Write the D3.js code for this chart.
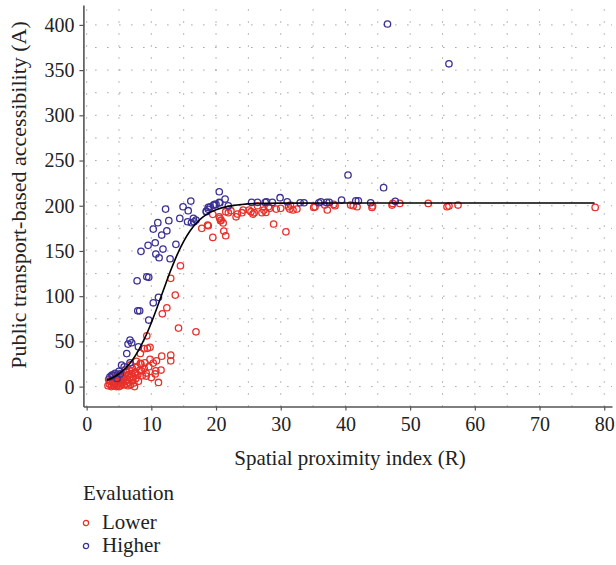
<!DOCTYPE html>
<head>
    <meta charset="utf-8">
    <script src="https://d3js.org/d3.v7.min.js"></script>
    <style>
        body { margin: 0; background: #fff; }
        text { font-family: "Liberation Serif", "DejaVu Serif", serif; fill: #222; }
    </style>
</head>
<body>
    <div id="chart"></div>

    <script>
    // values
    var xTicks = [0, 10, 20, 30, 40, 50, 60, 70, 80];
    var yTicks = [0, 50, 100, 150, 200, 250, 300, 350, 400];

    var fitX = [3.1, 4, 5, 6, 7, 8, 9, 10, 11, 12, 13, 14, 15, 16, 17, 18, 19, 20, 22, 24, 26, 30, 40, 50, 60, 70, 78.5];
    var fitY = [7, 9.8, 14.2, 20.3, 28.7, 39.8, 53.8, 70.7, 89.6, 109.4, 128.6, 146, 160.6, 172.3, 181.2, 187.7, 192.4, 195.7, 199.6, 201.4, 202.3, 202.9, 203, 203, 203, 203, 203];

    var higherPoints = [
        [46.5, 401], [56.0, 357], [40.4, 234], [45.9, 220], [47.7, 205],
        [20.5, 215.5], [21.4, 207.4], [20.6, 203.3], [19.8, 201.5], [19.6, 200.8],
        [18.8, 198.2], [18.5, 194], [21.9, 200], [25.5, 203.7], [26.4, 203.7],
        [27.6, 203.7], [27.8, 204.4], [28.7, 203.7], [29.9, 208.9], [31.0, 204.4],
        [33.0, 203.3], [33.6, 203.3], [35.9, 203.3], [36.2, 204.4], [37.1, 203.7],
        [37.5, 203.7], [39.4, 206.3], [41.6, 205.5], [42.0, 205.5], [43.9, 203.3],
        [16.1, 205.2], [14.9, 198.9], [15.7, 194.5], [12.2, 196.3], [14.4, 186],
        [15.6, 182.3], [16.2, 181.2], [16.6, 182.3], [16.5, 186], [16.9, 184.2],
        [18.5, 193.4], [18.8, 196], [19.1, 198.9], [19.7, 200.8], [20.0, 201.5],
        [20.5, 203.7], [12.7, 183.5], [11.0, 181.3], [10.3, 174.2], [12.4, 172.3],
        [11.6, 167.6], [10.6, 159.1], [9.5, 156.2], [8.4, 149.6], [13.8, 157.3],
        [11.8, 152.1], [10.7, 146.6], [11.2, 142.5], [12.9, 141.4], [9.3, 121.5],
        [9.6, 120.8], [7.8, 117], [11.1, 98.7], [10.3, 92.7], [7.9, 83.8],
        [8.2, 83.8], [9.6, 73.6], [6.7, 51.4], [6.97, 48.5], [6.4, 47],
        [8.0, 44], [6.2, 36.5], [6.7, 26.3], [5.8, 21.9], [5.4, 23.8],
        [4.4, 14.6], [3.9, 12.7], [3.6, 10.8], [4.1, 12.7], [5.0, 17],
        [4.7, 9], [5.2, 14]
    ];

    var lowerPoints = [
        [78.6, 198.2], [57.4, 200.8], [56.0, 199.7], [55.7, 198.9], [52.8, 202.6],
        [48.4, 202.6], [47.2, 200.8], [47.3, 202.6], [44.1, 198.2], [44.2, 199.7],
        [40.8, 200.8], [41.8, 198.9], [41.2, 200], [38.4, 200], [38.2, 201.5],
        [36.8, 200.8], [37.2, 195.3], [35.3, 198.9], [35.1, 198.2], [31.2, 198.9],
        [31.4, 196.3], [31.5, 200.8], [31.9, 195.3], [32.5, 196.3], [30.8, 171.2],
        [29.3, 196.3], [30.0, 197.1], [28.9, 179.8], [28.1, 198.9], [28.3, 197.1],
        [27.1, 192.3], [27.4, 195.2], [27.7, 192.6], [26.4, 200], [25.1, 195.2],
        [25.4, 193.4], [25.7, 190.8], [25.9, 192.3], [24.0, 192.3], [24.2, 195.2],
        [23.1, 187.8], [23.3, 190.8], [22.3, 194.5], [21.5, 193.4], [21.9, 192.3],
        [21.5, 166.8], [21.2, 172], [21.1, 181], [20.6, 186], [20.7, 183.4],
        [19.5, 190.5], [19.5, 165], [18.7, 178.7], [17.8, 175], [20.5, 187.8],
        [20.8, 184.2], [18.8, 177.9],
        [14.5, 133.6], [13.0, 119.7], [13.7, 101.2], [12.4, 87.2], [11.7, 80.5],
        [14.2, 64.7], [16.9, 60.6], [9.3, 56.2], [8.3, 36.7], [9.4, 42.3],
        [9.8, 43.4], [8.9, 42], [9.8, 30.1], [10.8, 28.5], [11.6, 33.7], [10.7, 17.5],
        [11.5, 18.3], [13.0, 34.8], [13.0, 28.5], [11.1, 4.6], [9.0, 26.3],
        [8.3, 25.7], [9.2, 11.6], [7.5, 14.6], [8.5, 17.5],
        [3.3, 1], [3.5, 3], [3.6, 6], [3.8, 0], [3.9, 2], [4.0, 5], [4.1, 8],
        [4.2, 1], [4.3, 3], [4.4, 10], [4.5, 4], [4.6, 0], [4.7, 6], [4.8, 2],
        [4.9, 9], [5.0, 4], [5.1, 12], [5.2, 1], [5.3, 7], [5.4, 3], [5.5, 14],
        [5.6, 5], [5.7, 9], [5.8, 2], [5.9, 11], [6.0, 6], [6.1, 16], [6.2, 3],
        [6.3, 8], [6.4, 13], [6.5, 5], [6.6, 18], [6.7, 10], [6.8, 2], [6.9, 14],
        [7.0, 7], [7.1, 20], [7.2, 11], [7.3, 4], [7.5, 16], [7.6, 9], [7.8, 22],
        [7.9, 13], [8.0, 6], [8.2, 18], [8.4, 25], [8.6, 12], [8.9, 20], [9.2, 15],
        [9.6, 22], [10.0, 10], [10.3, 26], [10.6, 14], [7.4, 0], [5.0, 0], [6.4, 1],
        [3.4, 8], [4.0, 11], [6.0, 19], [6.8, 24], [7.7, 28], [5.4, 10], [4.6, 13]
    ];

    var legendLabels = ["Lower", "Higher"];
    var colors = { Lower: "#e8302a", Higher: "#3b3196" };

    var width = 616, height = 565;

    var svg = d3.select("#chart")
        .append("svg")
        .attr("width", width)
        .attr("height", height);

    var x = d3.scaleLinear().domain([-0.5, 81.2]).range([83.4, 612]);
    var y = d3.scaleLinear().domain([-22, 422]).range([406.5, 5]);

    // dotted grid, major and half steps
    var gridX = d3.range(0, 81, 5);
    var gridY = d3.range(0, 421, 25);

    svg.append("g")
        .selectAll("line")
        .data(gridX)
        .enter()
        .append("line")
        .attr("x1", function (d) { return x(d); })
        .attr("x2", function (d) { return x(d); })
        .attr("y1", y.range()[0])
        .attr("y2", y.range()[1])
        .attr("stroke", "#777")
        .attr("stroke-width", 1)
        .attr("stroke-dasharray", "1,11");

    svg.append("g")
        .selectAll("line")
        .data(gridY)
        .enter()
        .append("line")
        .attr("y1", function (d) { return y(d); })
        .attr("y2", function (d) { return y(d); })
        .attr("x1", x.range()[0])
        .attr("x2", x.range()[1])
        .attr("stroke", "#777")
        .attr("stroke-width", 1)
        .attr("stroke-dasharray", "1,11");

    // axes
    var xAxis = svg.append("g")
        .attr("transform", "translate(0," + y.range()[0] + ")")
        .call(d3.axisBottom(x).tickValues(xTicks).tickSize(4).tickPadding(6).tickSizeOuter(0));

    var yAxis = svg.append("g")
        .attr("transform", "translate(" + x.range()[0] + ",0)")
        .call(d3.axisLeft(y).tickValues(yTicks).tickSize(4).tickPadding(5).tickSizeOuter(0));

    [xAxis, yAxis].forEach(function (g) {
        g.select(".domain").attr("stroke", "#555").attr("stroke-width", 1.6);
        g.selectAll(".tick line").attr("stroke", "#555").attr("stroke-width", 1.2);
        g.selectAll(".tick text")
            .style("font-family", "Liberation Serif, serif")
            .style("font-size", "20px")
            .attr("fill", "#222");
    });

    svg.append("text")
        .attr("x", 350)
        .attr("y", 465)
        .attr("text-anchor", "middle")
        .style("font-size", "21px")
        .text("Spatial proximity index (R)");

    svg.append("text")
        .attr("transform", "translate(26,195) rotate(-90)")
        .attr("text-anchor", "middle")
        .style("font-size", "22px")
        .text("Public transport-based accessibility (A)");

    // points
    svg.append("g")
        .selectAll("circle")
        .data(lowerPoints)
        .enter()
        .append("circle")
        .attr("cx", function (d) { return x(d[0]); })
        .attr("cy", function (d) { return y(d[1]); })
        .attr("r", 3.2)
        .attr("fill", "none")
        .attr("stroke", colors.Lower)
        .attr("stroke-width", 1.3);

    svg.append("g")
        .selectAll("circle")
        .data(higherPoints)
        .enter()
        .append("circle")
        .attr("cx", function (d) { return x(d[0]); })
        .attr("cy", function (d) { return y(d[1]); })
        .attr("r", 3.2)
        .attr("fill", "none")
        .attr("stroke", colors.Higher)
        .attr("stroke-width", 1.3);

    // fitted curve
    var line = d3.line()
        .x(function (d, i) { return x(fitX[i]); })
        .y(function (d, i) { return y(fitY[i]); })
        .curve(d3.curveMonotoneX);

    svg.append("path")
        .datum(fitX)
        .attr("d", line)
        .attr("fill", "none")
        .attr("stroke", "#000")
        .attr("stroke-width", 1.6);

    // legend
    var legend = svg.append("g");

    legend.append("text")
        .attr("x", 83)
        .attr("y", 500)
        .style("font-size", "21px")
        .text("Evaluation");

    var items = legend.selectAll(".item")
        .data(legendLabels)
        .enter()
        .append("g")
        .attr("transform", function (d, i) { return "translate(0," + (523 + i * 23) + ")"; });

    items.append("circle")
        .attr("cx", 86)
        .attr("cy", 0)
        .attr("r", 2.6)
        .attr("fill", "none")
        .attr("stroke", function (d) { return colors[d]; })
        .attr("stroke-width", 1.3);

    items.append("text")
        .attr("x", 102)
        .attr("y", 6)
        .style("font-size", "21px")
        .text(function (d) { return d; });
    </script>
</body>
